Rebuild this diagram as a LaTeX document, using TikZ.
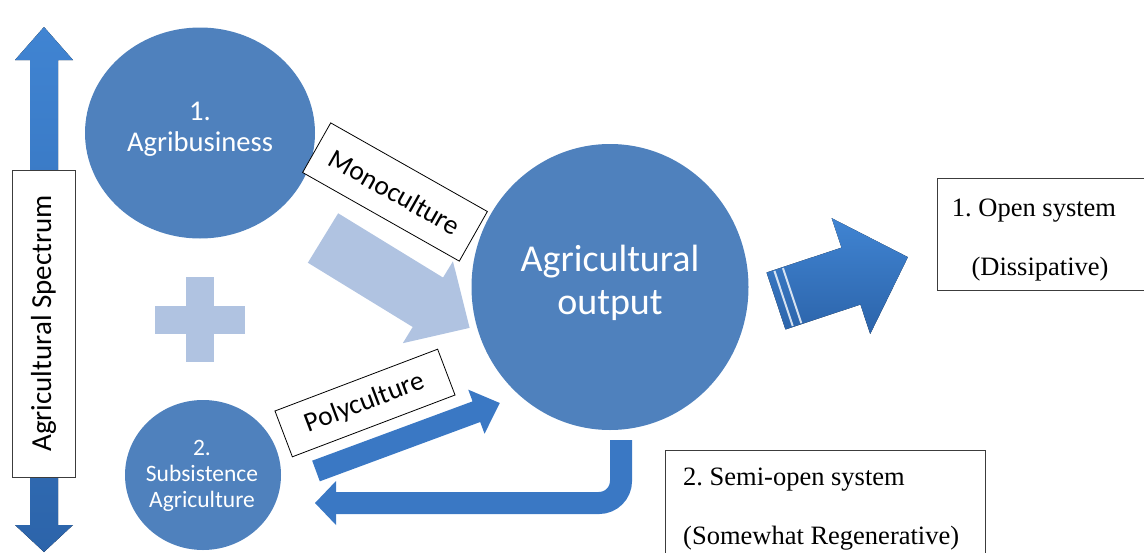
\documentclass[tikz,border=0pt]{standalone}
\usepackage{fontspec}
\setmainfont{Liberation Serif}
\newfontfamily\calib{Carlito}
\usetikzlibrary{shapes.geometric}
\frenchspacing
\definecolor{circblue}{RGB}{79,129,189}
\definecolor{lightarrow}{RGB}{176,195,225}
\definecolor{arrowblue}{RGB}{58,120,196}
\definecolor{arrowtop}{RGB}{64,132,210}
\definecolor{arrowbot}{RGB}{44,100,170}
\definecolor{boxline}{RGB}{60,60,60}
\begin{document}
\begin{tikzpicture}[x=1pt,y=-1pt,
  circ/.style={ellipse, fill=circblue, inner sep=0pt, outer sep=0pt},
  whitetext/.style={text=white, align=center, inner sep=0pt},
  labelbox/.style={draw=black, fill=white, line width=0.8pt, inner sep=0pt, font=\calib\fontsize{27.5}{30}\selectfont},
  sysbox/.style={draw=boxline, line width=0.9pt, fill=white, inner sep=0pt},
  systext/.style={font=\fontsize{26.5}{30}\selectfont, inner sep=0pt},
  blockarrow/.style={top color=arrowtop, bottom color=arrowbot}
]
\useasboundingbox (0,0) rectangle (1144,552);

% vertical spectrum double arrow
\fill[blockarrow] (30,60) -- (15,60) -- (44,27) -- (73,60) -- (58,60) -- (58,525) -- (73,525) -- (44,552) -- (15,525) -- (30,525) -- cycle;
\node[sysbox, rotate=90, minimum width=307pt, minimum height=63pt, font=\calib\fontsize{29}{30}\selectfont] (spec) at (43.5,323.5) {Agricultural Spectrum};

% circles
\node[circ, minimum width=230pt, minimum height=211pt] (agri) at (200,133) {};
\node[whitetext, font=\calib\fontsize{28.6}{31}\selectfont] (agrit) at (200,129) {1.\\Agribusiness};
\node[circ, minimum width=156pt, minimum height=150pt] (subs) at (203,475) {};
\node[whitetext, font=\calib\fontsize{23.5}{26}\selectfont] (subst) at (202,476) {2.\\Subsistence\\Agriculture};
\node[circ, minimum width=277pt, minimum height=286pt] (out) at (610,287) {};
\node[whitetext, font=\calib\fontsize{38}{43}\selectfont] (outt) at (610,283) {Agricultural\\output};

% plus sign
\fill[lightarrow] (155,306) rectangle (245,334);
\fill[lightarrow] (186,277) rectangle (214,362);

% monoculture arrow
\begin{scope}[shift={(323,238)}, rotate=-31.5]
\fill[lightarrow] (0,-29) -- (123,-29) -- (123,-48) -- (172,0) -- (123,48) -- (123,29) -- (0,29) -- cycle;
\end{scope}
\node[labelbox, rotate=-29.5, minimum width=180pt, minimum height=57pt] (mono) at (395,192) {Monoculture};

% polyculture arrow
\begin{scope}[shift={(316,471)}, rotate=20.3]
\fill[arrowblue] (0,-11) -- (171,-11) -- (171,-23.5) -- (196,0) -- (171,23.5) -- (171,11) -- (0,11) -- cycle;
\end{scope}
\node[labelbox, rotate=20.8, minimum width=174pt, minimum height=49pt] (poly) at (365,403) {Polyculture};

% return arrow
\coordinate (r0) at (621,440);
\coordinate (r1) at (621,503);
\coordinate (r2) at (336,503);
\draw[arrowblue, line width=22pt, rounded corners=22pt] (r0) -- (r1) -- (r2);
\fill[arrowblue] (336,481) -- (315,503) -- (336,525) -- cycle;

% big right arrow
\begin{scope}[shift={(776,301)}, rotate=18.4]
\fill[blockarrow] (0,-30) -- (79,-30) -- (79,-61) -- (139,0) -- (79,61) -- (79,30) -- (0,30) -- cycle;
\draw[white, opacity=0.8, line width=2pt] (8,-29) -- (8,29) (17,-29) -- (17,29);
\end{scope}

% system boxes
\node[sysbox, anchor=north west, minimum width=215pt, minimum height=112pt] (open) at (937,178) {};
\node[systext, anchor=base] (opent1) at (1034,216) {1. Open system};
\node[systext, anchor=base] (opent2) at (1040,275) {(Dissipative)};
\node[sysbox, anchor=north west, minimum width=320pt, minimum height=130pt] (semi) at (665,450) {};
\node[systext, anchor=base west] (semit1) at (683,485) {2. Semi-open system};
\node[systext, anchor=base west] (semit2) at (683,544) {(Somewhat Regenerative)};
\end{tikzpicture}
\end{document}
